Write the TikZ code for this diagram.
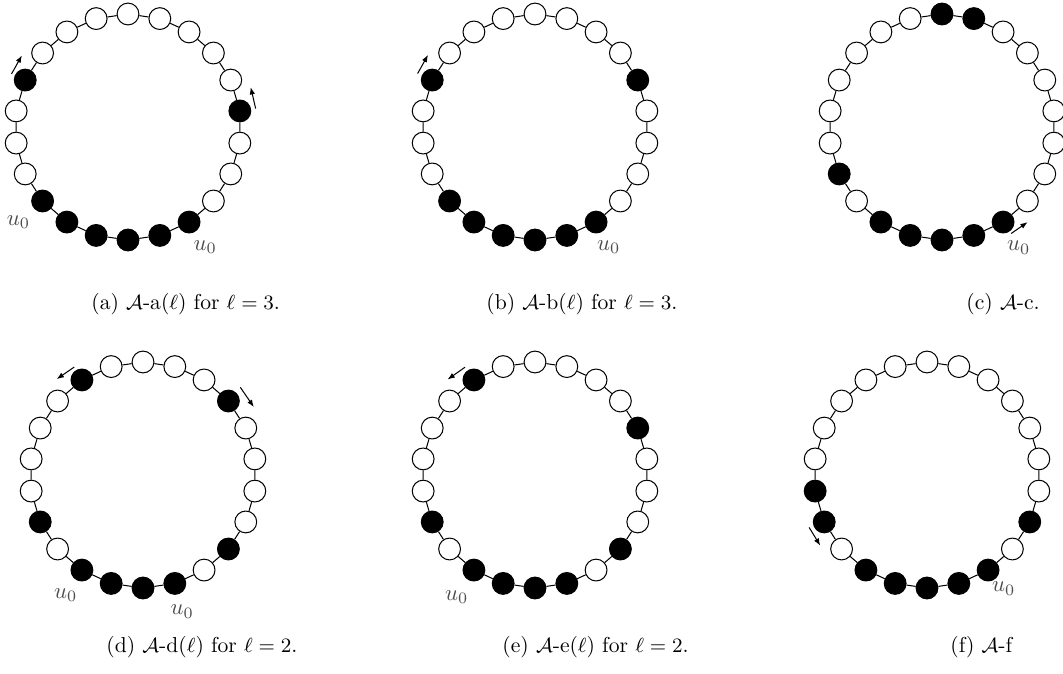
\documentclass[tikz,border=0pt]{standalone}
\usetikzlibrary{arrows.meta}
\tikzset{
  wnode/.style={circle,draw=black,fill=white,line width=0.45pt,minimum size=9.6pt,inner sep=0pt},
  bnode/.style={circle,draw=black,fill=black,line width=0.45pt,minimum size=9.6pt,inner sep=0pt},
  ring/.style={line width=0.45pt,black},
  arr/.style={line width=0.45pt,-{Latex[length=3.2pt,width=2.4pt]}},
  ulab/.style={text=black!70,inner sep=0pt},
  captext/.style={anchor=base west,inner sep=0pt,font=\fontsize{9.5pt}{11pt}\selectfont}
}
\makeatletter
\newcommand\ringdraw[3]{%
  \begin{scope}[shift={#2}]
  \foreach \k in {0,...,21}{
    \pgfmathsetmacro\ang{90-\k*360/22}
    \edef\tmpchk{\noexpand\in@{,\k,}{,#3,}}\tmpchk
    \ifin@ \node[bnode] (#1-\k) at (\ang:113) {};
    \else \node[wnode] (#1-\k) at (\ang:113) {}; \fi
  }
  \foreach \k in {0,...,21}{
    \pgfmathtruncatemacro\nx{mod(\k+1,22)}
    \draw[ring] (#1-\k) -- (#1-\nx);
  }
  \end{scope}}
\makeatother
\begin{document}
\begin{tikzpicture}[x=0.44pt,y=0.44pt]
\useasboundingbox (0,0) rectangle (1063,673);
% (a)
\ringdraw{a}{(128,546)}{5,9,10,11,12,13,14,18}
\begin{scope}[shift={(128,546)}]
  \coordinate (a-s1) at (155.5:128); \coordinate (a-e1) at (146:128);
  \coordinate (a-s2) at (8.2:129);   \coordinate (a-e2) at (18:129);
  \node[ulab] (a-u1) at (220.9:145) {$u_0$};
  \node[ulab] (a-u2) at (-57.3:143) {$u_0$};
\end{scope}
\draw[arr] (a-s1) -- (a-e1);
\draw[arr] (a-s2) -- (a-e2);
\node[captext] (capa) at (91,364) {(a) $\mathcal{A}$-a($\ell$) for $\ell=3$.};
% (b)
\ringdraw{b}{(535,546)}{4,9,10,11,12,13,14,18}
\begin{scope}[shift={(535,546)}]
  \coordinate (b-s1) at (155.5:129); \coordinate (b-e1) at (146:129);
  \node[ulab] (b-u1) at (-58.5:141) {$u_0$};
\end{scope}
\draw[arr] (b-s1) -- (b-e1);
\node[captext] (capb) at (486,364) {(b) $\mathcal{A}$-b($\ell$) for $\ell=3$.};
% (c)
\ringdraw{c}{(942,546)}{0,1,9,10,11,12,13,15}
\begin{scope}[shift={(942,546)}]
  \coordinate (c-s1) at (-57:127); \coordinate (c-e1) at (-48:128);
  \node[ulab] (c-u1) at (-57.5:143) {$u_0$};
\end{scope}
\draw[arr] (c-s1) -- (c-e1);
\node[captext] (capc) at (966,364) {(c) $\mathcal{A}$-c.};
% (d)
\ringdraw{d}{(143,198)}{3,8,10,11,12,13,15,20}
\begin{scope}[shift={(143,198)}]
  \coordinate (d-s1) at (122.5:128); \coordinate (d-e1) at (132:129);
  \coordinate (d-s2) at (42:131);    \coordinate (d-e2) at (31.5:130);
  \node[ulab] (d-u1) at (237.3:143) {$u_0$};
  \node[ulab] (d-u2) at (-74:142) {$u_0$};
\end{scope}
\draw[arr] (d-s1) -- (d-e1);
\draw[arr] (d-s2) -- (d-e2);
\node[captext] (capd) at (106,21) {(d) $\mathcal{A}$-d($\ell$) for $\ell=2$.};
% (e)
\ringdraw{e}{(535,198)}{4,8,10,11,12,13,15,20}
\begin{scope}[shift={(535,198)}]
  \coordinate (e-s1) at (123:128.5); \coordinate (e-e1) at (132.5:129.5);
  \node[ulab] (e-u1) at (237.3:145) {$u_0$};
\end{scope}
\draw[arr] (e-s1) -- (e-e1);
\node[captext] (cape) at (502,21) {(e) $\mathcal{A}$-e($\ell$) for $\ell=2$.};
% (f)
\ringdraw{f}{(927,198)}{7,9,10,11,12,13,15,16}
\begin{scope}[shift={(927,198)}]
  \coordinate (f-s1) at (204:129); \coordinate (f-e1) at (213.5:128);
  \node[ulab] (f-u1) at (-56:137) {$u_0$};
\end{scope}
\draw[arr] (f-s1) -- (f-e1);
\node[captext] (capf) at (950,21) {(f) $\mathcal{A}$-f};
\end{tikzpicture}
\end{document}
